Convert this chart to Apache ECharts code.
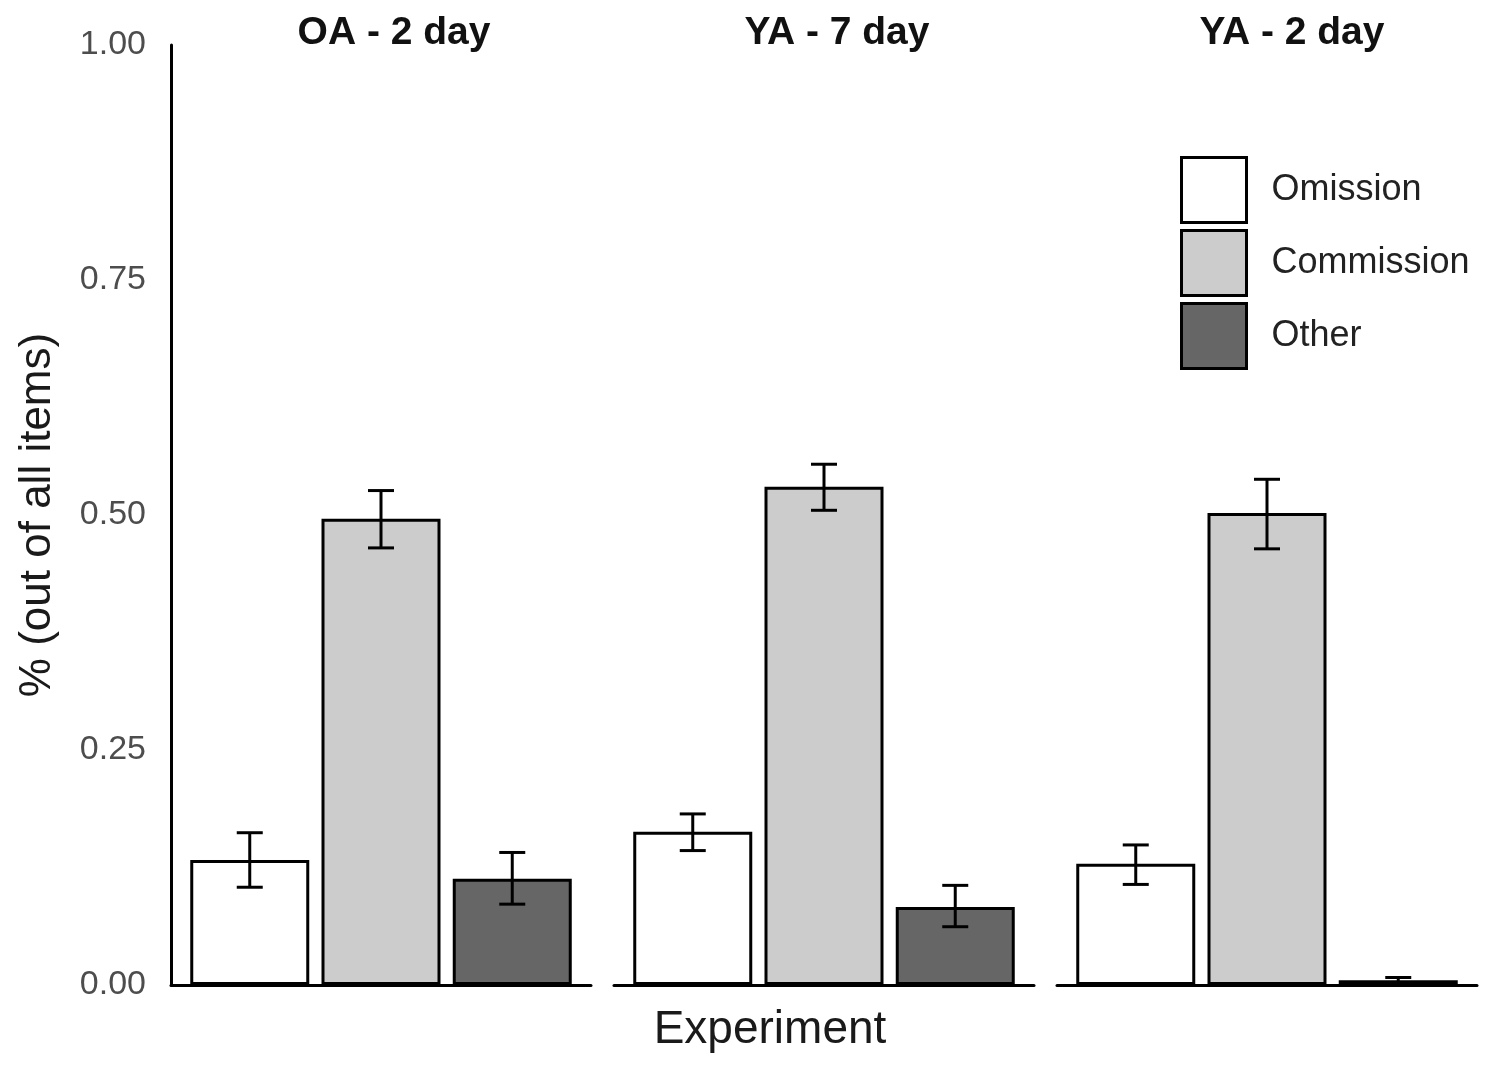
<!DOCTYPE html>
<html>
<head>
<meta charset="utf-8">
<script src="https://cdn.jsdelivr.net/npm/echarts@6/dist/echarts.min.js"></script>
<style>
  html, body { margin: 0; padding: 0; background: #ffffff; }
  #chart { width: 1500px; height: 1075px; }
</style>
</head>
<body>
<div id="chart"></div>
<script>
// ---- data ----
const panels = ['OA - 2 day', 'YA - 7 day', 'YA - 2 day'];
const categories = ['Omission', 'Commission', 'Other'];
const omission      = [0.133, 0.163, 0.129];
const omissionLow   = [0.104, 0.143, 0.107];
const omissionHigh  = [0.162, 0.182, 0.149];
const commission     = [0.496, 0.530, 0.502];
const commissionLow  = [0.465, 0.505, 0.464];
const commissionHigh = [0.526, 0.554, 0.538];
const other      = [0.113, 0.083, 0.005];
const otherLow   = [0.086, 0.062, 0.002];
const otherHigh  = [0.141, 0.106, 0.008];
const yTicks = [0.00, 0.25, 0.50, 0.75, 1.00];
const xTitle = 'Experiment';
const yTitle = '% (out of all items)';

// ---- styling / layout ----
const FONT = '"Liberation Sans", Arial, sans-serif';
const fills = ['#ffffff', '#cccccc', '#666666'];
const gridLefts = [171, 614, 1057];
const gridWidth = 420;
const gridTop = 45;
const gridHeight = 940;
const titleCenters = [389, 832, 1287];

const values = [omission, commission, other];
const lows = [omissionLow, commissionLow, otherLow];
const highs = [omissionHigh, commissionHigh, otherHigh];

const grid = [], xAxis = [], yAxis = [], series = [], titles = [];

panels.forEach((name, p) => {
  grid.push({ left: gridLefts[p], top: gridTop, width: gridWidth, height: gridHeight, containLabel: false });
  xAxis.push({
    type: 'value', gridIndex: p, min: 0.4, max: 3.6,
    axisLine: { show: true, lineStyle: { color: '#000', width: 3 } },
    axisTick: { show: false }, axisLabel: { show: false }, splitLine: { show: false }
  });
  yAxis.push({
    type: 'value', gridIndex: p, min: yTicks[0], max: yTicks[yTicks.length - 1],
    interval: yTicks[1] - yTicks[0],
    show: p === 0,
    name: p === 0 ? yTitle : '',
    nameLocation: 'middle', nameGap: 111,
    nameTextStyle: { fontFamily: FONT, fontSize: 44, color: '#1a1a1a' },
    axisLine: { show: true, lineStyle: { color: '#000', width: 3 } },
    axisTick: { show: false },
    axisLabel: {
      show: true, margin: 25, fontFamily: FONT, fontSize: 34, color: '#4d4d4d',
      formatter: v => v.toFixed(2)
    },
    splitLine: { show: false }
  });
  categories.forEach((cat, c) => {
    series.push({
      type: 'bar', name: cat, xAxisIndex: p, yAxisIndex: p,
      data: [[c + 1, values[c][p]]],
      barWidth: 119, barGap: '-100%',
      itemStyle: { color: fills[c], borderColor: '#000', borderWidth: 3 },
      emphasis: { disabled: true },
      z: 2
    });
  });
  series.push({
    type: 'custom', name: 'err' + p, xAxisIndex: p, yAxisIndex: p, z: 5,
    data: categories.map((cat, c) => [c + 1, lows[c][p], highs[c][p]]),
    encode: { x: 0, y: [1, 2] },
    renderItem: function (params, api) {
      const x = api.value(0);
      const pLo = api.coord([x, api.value(1)]);
      const pHi = api.coord([x, api.value(2)]);
      const hw = 13;
      const st = { stroke: '#000', lineWidth: 3, fill: null };
      return {
        type: 'group',
        children: [
          { type: 'line', shape: { x1: pLo[0], y1: pLo[1], x2: pHi[0], y2: pHi[1] }, style: st },
          { type: 'line', shape: { x1: pLo[0] - hw, y1: pLo[1], x2: pLo[0] + hw, y2: pLo[1] }, style: st },
          { type: 'line', shape: { x1: pHi[0] - hw, y1: pHi[1], x2: pHi[0] + hw, y2: pHi[1] }, style: st }
        ]
      };
    }
  });
  titles.push({
    text: name, left: titleCenters[p], top: 9, textAlign: 'center',
    textStyle: { fontFamily: FONT, fontSize: 39, fontWeight: 'bold', color: '#111' }
  });
});

titles.push({
  text: xTitle, left: 765, top: 1002, textAlign: 'center',
  textStyle: { fontFamily: FONT, fontSize: 46, fontWeight: 'normal', color: '#1a1a1a' }
});

const chart = echarts.init(document.getElementById('chart'), null, { renderer: 'canvas' });
chart.setOption({
  animation: false,
  backgroundColor: '#ffffff',
  title: titles,
  grid: grid,
  xAxis: xAxis,
  yAxis: yAxis,
  legend: {
    data: categories,
    orient: 'vertical',
    left: 1180, top: 156, padding: 0,
    itemWidth: 65, itemHeight: 65, itemGap: 5,
    icon: 'rect',
    itemStyle: { borderColor: '#000', borderWidth: 3 },
    textStyle: { fontFamily: FONT, fontSize: 36, color: '#222', padding: [0, 0, 0, 20] },
    selectedMode: false
  },
  series: series
});
</script>
</body>
</html>
